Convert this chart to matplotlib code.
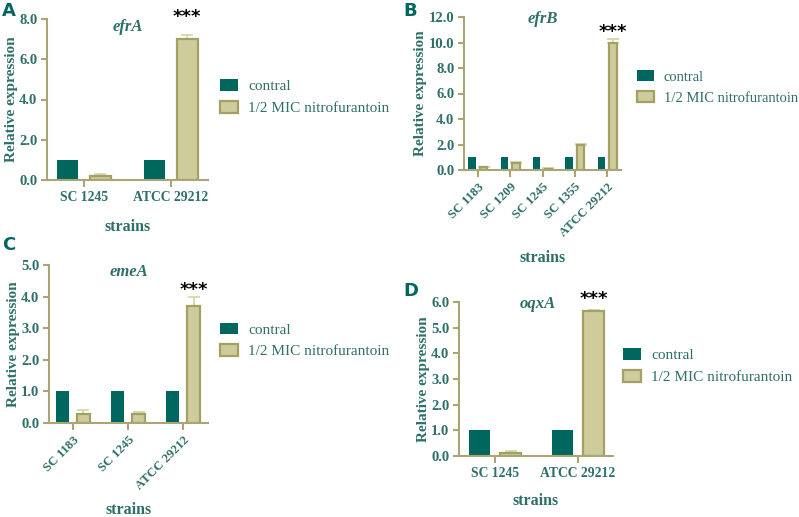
import matplotlib
matplotlib.use("Agg")
import matplotlib.pyplot as plt
from matplotlib.font_manager import FontProperties
import numpy as np

# ---------------- data ----------------
genes = ["efrA", "efrB", "emeA", "oqxA"]
strains_A = ["SC 1245", "ATCC 29212"]
ctrl_A = [1.0, 1.0]
trt_A = [0.2, 7.0]
err_A = [0.1, 0.22]

strains_B = ["SC 1183", "SC 1209", "SC 1245", "SC 1355", "ATCC 29212"]
ctrl_B = [1.0, 1.0, 1.0, 1.0, 1.0]
trt_B = [0.2, 0.55, 0.1, 1.95, 10.0]
err_B = [0.05, 0.08, 0.03, 0.08, 0.3]

strains_C = ["SC 1183", "SC 1245", "ATCC 29212"]
ctrl_C = [1.0, 1.0, 1.0]
trt_C = [0.3, 0.28, 3.7]
err_C = [0.12, 0.08, 0.28]

strains_D = ["SC 1245", "ATCC 29212"]
ctrl_D = [1.0, 1.0]
trt_D = [0.1, 5.65]
err_D = [0.1, 0.05]

legend_labels = ["contral", "1/2 MIC nitrofurantoin"]
ylims = [8.0, 12.0, 5.0, 6.0]
ysteps = [2.0, 2.0, 1.0, 1.0]

# ---------------- style ----------------
C_CTRL = "#00675F"
C_TRT = "#CFCC9B"
C_EDGE = "#A3A066"
C_ERR = "#D6D3A3"
C_AX = "#A9A574"
C_TXT = "#2E6F69"
SERIF = "Liberation Serif"

fig = plt.figure(figsize=(7.99, 5.17), dpi=100)

panels = [
    dict(rect=[47/799, 1-180/517, 161/799, 161/517], x=strains_A, c=ctrl_A, t=trt_A, e=err_A,
         xlim=(-0.425, 1.425), rot=0, w=0.24, off=0.185, leg=(220/799, 1-97/517), legsize=11,
         letter=(2/799, 1-2/517), lab_pad=11, title_y=0.95, title_x=0.5, star_y=8.1),
    dict(rect=[464/799, 1-170/517, 157/799, 153/517], x=strains_B, c=ctrl_B, t=trt_B, e=err_B,
         xlim=(-0.43, 4.43), rot=45, w=0.23, off=0.18, leg=(637/799, 1-87.5/517), legsize=10.5,
         letter=(403/799, 1-2/517), lab_pad=8, title_y=0.99, title_x=0.5, star_y=10.8),
    dict(rect=[49/799, 1-423/517, 159/799, 158/517], x=strains_C, c=ctrl_C, t=trt_C, e=err_C,
         xlim=(-0.436, 2.45), rot=45, w=0.236, off=0.19, leg=(220/799, 1-340.5/517), legsize=11,
         letter=(2/799, 1-236/517), lab_pad=7, title_y=0.955, title_x=0.5, star_y=4.2),
    dict(rect=[459/799, 1-456/517, 154/799, 154/517], x=strains_D, c=ctrl_D, t=trt_D, e=err_D,
         xlim=(-0.434, 1.42), rot=0, w=0.253, off=0.187, leg=(623/799, 1-366/517), legsize=11,
         letter=(403/799, 1-282/517), lab_pad=9, title_y=0.99, title_x=0.51, star_y=6.1),
]
letters = ["A", "B", "C", "D"]

for i, p in enumerate(panels):
    ax = fig.add_axes(p["rect"])
    n = len(p["x"])
    xs = np.arange(n)
    b1 = ax.bar(xs - p["off"], p["c"], width=p["w"], color=C_CTRL, edgecolor=C_CTRL,
                linewidth=0, label=legend_labels[0], zorder=2)
    ax.errorbar(xs + p["off"], p["t"], yerr=[np.zeros(n), p["e"]], fmt="none",
                ecolor=C_ERR, elinewidth=1.2, capsize=4, capthick=1.2, zorder=1)
    b2 = ax.bar(xs + p["off"], p["t"], width=p["w"], color=C_TRT, edgecolor=C_EDGE,
                linewidth=1.6, label=legend_labels[1], zorder=2)
    ax.set_xlim(*p["xlim"])
    ax.set_ylim(0, ylims[i])
    yt = np.arange(0, ylims[i] + 0.01, ysteps[i])
    ax.set_yticks(yt)
    ax.set_yticklabels([f"{v:.1f}" for v in yt])
    ax.set_xticks(xs)
    if p["rot"]:
        ax.set_xticklabels(p["x"], rotation=45, ha="right", rotation_mode="anchor")
    else:
        ax.set_xticklabels(p["x"])
    for s in ["top", "right"]:
        ax.spines[s].set_visible(False)
    for s in ["left", "bottom"]:
        ax.spines[s].set_color(C_AX)
        ax.spines[s].set_linewidth(1.5)
    ax.tick_params(axis="both", colors=C_AX, width=1.5, length=4, pad=3)
    ax.tick_params(axis="x", length=5)
    for lab in ax.get_yticklabels():
        lab.set_fontfamily(SERIF)
        lab.set_fontweight("bold")
        lab.set_color(C_TXT)
        lab.set_fontsize(10.5)
    for lab in ax.get_xticklabels():
        lab.set_fontfamily(SERIF)
        lab.set_fontweight("bold")
        lab.set_color(C_TXT)
        lab.set_fontsize(9.2 if p["rot"] else 9.8)
    ax.set_ylabel("Relative expression", family=SERIF, fontweight="bold", color=C_TXT,
                  fontsize=11, labelpad=1)
    ax.set_xlabel("strains", family=SERIF, fontweight="bold", color=C_TXT,
                  fontsize=11.5, labelpad=p["lab_pad"])
    ax.text(p["title_x"], p["title_y"], genes[i], transform=ax.transAxes, ha="center", va="center",
            family=SERIF, fontstyle="italic", fontweight="bold", color=C_TXT, fontsize=12)
    # significance stars
    ax.text(xs[-1] + p["off"], p["star_y"], "***", ha="center", va="center",
            fontsize=13, fontweight="bold", color="black", clip_on=False)
    fig.legend(handles=[b1, b2], labels=legend_labels, loc="center left",
               bbox_to_anchor=p["leg"], bbox_transform=fig.transFigure, frameon=False,
               borderpad=0, borderaxespad=0, handlelength=1.15, handleheight=0.8,
               handletextpad=0.7, labelspacing=0.5,
               prop=FontProperties(family=SERIF, size=p["legsize"]), labelcolor=C_TXT)
    fig.text(p["letter"][0], p["letter"][1], letters[i], ha="left", va="top",
             fontsize=13, fontweight="bold", color=C_CTRL, family="DejaVu Sans")

fig.savefig("out.png", dpi=100)
